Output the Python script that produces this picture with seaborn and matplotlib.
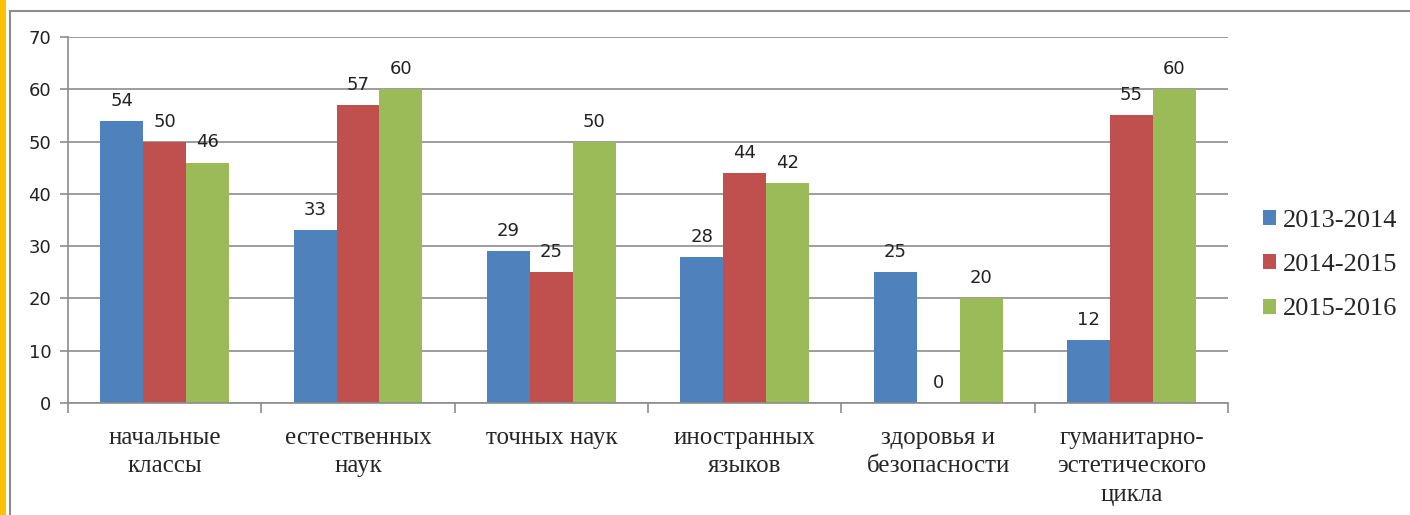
import numpy as np
import pandas as pd
import seaborn as sns
import matplotlib.pyplot as plt
from matplotlib.patches import Rectangle

# Data
categories = ["начальные\nклассы", "естественных\nнаук", "точных наук",
              "иностранных\nязыков", "здоровья и\nбезопасности",
              "гуманитарно-\nэстетического\nцикла"]
years = ["2013-2014", "2014-2015", "2015-2016"]
y2013 = [54, 33, 29, 28, 25, 12]
y2014 = [50, 57, 25, 44, 0, 55]
y2015 = [46, 60, 50, 42, 20, 60]
yticks = [0, 10, 20, 30, 40, 50, 60, 70]

colors = ["#4F81BD", "#C0504D", "#9BBB59"]
grid_col = "#8C8C8C"

df = pd.DataFrame({
    "cat": categories * 3,
    "year": [years[0]] * 6 + [years[1]] * 6 + [years[2]] * 6,
    "value": y2013 + y2014 + y2015,
})

sns.set_style("white")
plt.rcParams["font.family"] = ["DejaVu Sans"]

fig = plt.figure(figsize=(14.1, 5.15), dpi=100)
ax = fig.add_axes([0.0482, 0.2175, 0.8228, 0.7105])

sns.barplot(data=df, x="cat", y="value", hue="year", palette=colors,
            width=0.667, saturation=1, ax=ax, edgecolor="none")

ax.set_ylim(0, 70)
ax.set_xlim(-0.5, 5.5)
ax.set_yticks(yticks)
ax.set_yticklabels([str(t) for t in yticks], fontsize=13, color="#222222")
ax.yaxis.grid(True, color=grid_col, linewidth=1.2)
ax.set_axisbelow(True)
ax.tick_params(axis="y", left=True, length=6, width=1.2, color=grid_col, pad=6)

# category labels in serif, boundary ticks below axis
ax.set_xticks(range(6))
ax.set_xticklabels(categories, fontsize=18, family="Liberation Serif",
                   linespacing=1.38, va="top")
ax.tick_params(axis="x", which="major", length=0, pad=17)
ax.set_xticks(np.arange(-0.5, 6.0, 1.0), minor=True)
ax.tick_params(axis="x", which="minor", bottom=True, length=7, width=1.2,
               color=grid_col)
ax.set_xlabel("")
ax.set_ylabel("")

for side in ["top", "right"]:
    ax.spines[side].set_visible(False)
for side in ["left", "bottom"]:
    ax.spines[side].set_color(grid_col)
    ax.spines[side].set_linewidth(1.2)

for cont in ax.containers:
    ax.bar_label(cont, fmt="%d", padding=8, fontsize=13, color="#222222")

handles, labels = ax.get_legend_handles_labels()
ax.legend_.remove()
fig.legend(handles, labels, loc="center left",
           bbox_to_anchor=(1263 / 1410, 1 - 265 / 515), frameon=False,
           borderpad=0, borderaxespad=0,
           prop={"family": "Liberation Serif", "size": 19},
           handlelength=0.5, handleheight=0.5, handletextpad=0.25,
           labelspacing=0.85)

# outer frame and orange strip like the source document
fig.patches.append(Rectangle((10 / 1410, -0.1), 1.1, 1 - 11 / 515 + 0.1,
                             transform=fig.transFigure, fill=False,
                             edgecolor="#8C8C8C", linewidth=1.5))
fig.patches.append(Rectangle((0, 0), 6 / 1410, 1, transform=fig.transFigure,
                             facecolor="#FFC000", edgecolor="none"))

plt.savefig("out.png", dpi=100)
